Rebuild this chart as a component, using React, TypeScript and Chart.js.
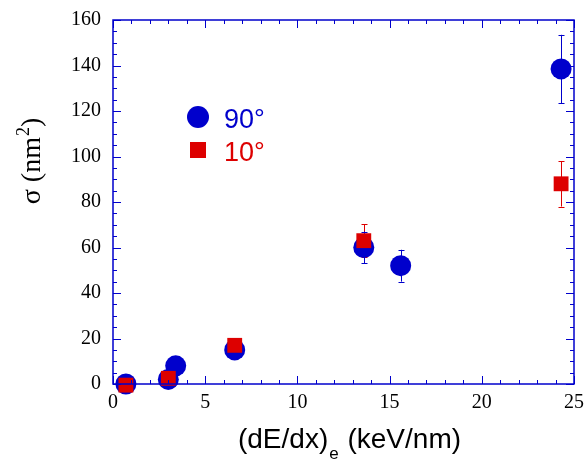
import React, { useEffect, useRef } from "react";
import { Chart, registerables } from "chart.js";

Chart.register(...registerables);

const BLUE = "#0000cc";
const RED = "#dd0000";

const blueX = [0.7, 3.0, 3.4, 6.6, 13.6, 15.6, 24.3];
const blueY = [0, 2, 8, 15, 60, 52, 138.5];
const blueErr = [0.5, 0.5, 1, 1.5, 7, 7, 15];

const redX = [0.7, 3.0, 6.6, 13.6, 24.3];
const redY = [-0.5, 2.5, 17, 63, 88];
const redErr = [0.5, 0.5, 1, 7.3, 10];

const legendLabels = ["90°", "10°"];
const xTitleMain = "(dE/dx)";
const xTitleSub = "e";
const xTitleRest = " (keV/nm)";
const yTitleMain = "σ (nm";
const yTitleSup = "2";
const yTitleEnd = ")";

const X_MIN = 0, X_MAX = 25, X_STEP = 5, X_MINOR = 1;
const Y_MIN = 0, Y_MAX = 160, Y_STEP = 20, Y_MINOR = 5;

const errorData = [redErr, blueErr];
const errColors = [RED, BLUE];

const zeroPad = (s: any) => {
  s.paddingLeft = 0;
  s.paddingRight = 0;
  s.paddingTop = 0;
  s.paddingBottom = 0;
};

const decorPlugin = {
  id: "decor",
  beforeDatasetsDraw(chart: any) {
    const ctx = chart.ctx;
    const xs = chart.scales.x;
    const ys = chart.scales.y;
    ctx.save();
    chart.data.datasets.forEach((ds: any, di: number) => {
      ctx.strokeStyle = errColors[di];
      ctx.lineWidth = 1;
      ds.data.forEach((p: any, i: number) => {
        const e = errorData[di][i];
        const px = Math.round(xs.getPixelForValue(p.x)) + 0.5;
        const y1 = ys.getPixelForValue(p.y + e);
        const y2 = ys.getPixelForValue(p.y - e);
        ctx.beginPath();
        ctx.moveTo(px, y1);
        ctx.lineTo(px, y2);
        ctx.moveTo(px - 3, Math.round(y1) + 0.5);
        ctx.lineTo(px + 3, Math.round(y1) + 0.5);
        ctx.moveTo(px - 3, Math.round(y2) + 0.5);
        ctx.lineTo(px + 3, Math.round(y2) + 0.5);
        ctx.stroke();
      });
    });
    ctx.restore();
  },
  afterDraw(chart: any) {
    const ctx = chart.ctx;
    const { left, right, top, bottom } = chart.chartArea;
    const xs = chart.scales.x;
    const ys = chart.scales.y;
    ctx.save();
    // frame
    ctx.strokeStyle = BLUE;
    ctx.lineWidth = 1.5;
    ctx.strokeRect(left, top, right - left, bottom - top);
    // ticks
    ctx.lineWidth = 1;
    ctx.beginPath();
    for (let v = X_MIN; v <= X_MAX + 1e-9; v += X_MINOR) {
      const len = Math.abs(v % X_STEP) < 1e-9 ? 8 : 4;
      const px = Math.round(xs.getPixelForValue(v)) + 0.5;
      ctx.moveTo(px, bottom);
      ctx.lineTo(px, bottom - len);
      ctx.moveTo(px, top);
      ctx.lineTo(px, top + len);
    }
    for (let v = Y_MIN; v <= Y_MAX + 1e-9; v += Y_MINOR) {
      const len = Math.abs(v % Y_STEP) < 1e-9 ? 8 : 4;
      const py = Math.round(ys.getPixelForValue(v)) + 0.5;
      ctx.moveTo(left, py);
      ctx.lineTo(left + len, py);
      ctx.moveTo(right, py);
      ctx.lineTo(right - len, py);
    }
    ctx.stroke();

    // legend
    const lx = left + 85;
    const ly1 = top + 97;
    const ly2 = top + 130;
    ctx.fillStyle = BLUE;
    ctx.beginPath();
    ctx.arc(lx, ly1, 11, 0, Math.PI * 2);
    ctx.fill();
    ctx.fillStyle = RED;
    ctx.fillRect(lx - 8, ly2 - 8, 16, 16);
    ctx.font = "27px 'Liberation Sans', Arial, sans-serif";
    ctx.textBaseline = "alphabetic";
    ctx.textAlign = "left";
    ctx.fillStyle = BLUE;
    ctx.fillText(legendLabels[0], lx + 26, ly1 + 11);
    ctx.fillStyle = RED;
    ctx.fillText(legendLabels[1], lx + 26, ly2 + 11);

    // x title
    ctx.fillStyle = "#000";
    const mainFont = "28px 'Liberation Sans', Arial, sans-serif";
    const subFont = "17px 'Liberation Sans', Arial, sans-serif";
    ctx.font = mainFont;
    const w1 = ctx.measureText(xTitleMain).width;
    const w3 = ctx.measureText(xTitleRest).width;
    ctx.font = subFont;
    const w2 = ctx.measureText(xTitleSub).width;
    const total = w1 + w2 + 2 + w3;
    const cx = (left + right) / 2 + 6;
    const x0 = cx - total / 2;
    const base = bottom + 64;
    ctx.font = mainFont;
    ctx.fillText(xTitleMain, x0, base);
    ctx.font = subFont;
    ctx.fillText(xTitleSub, x0 + w1 + 1, base + 11);
    ctx.font = mainFont;
    ctx.fillText(xTitleRest, x0 + w1 + w2 + 2, base);

    // y title (rotated)
    const yFont = "28px 'Liberation Serif', 'Times New Roman', serif";
    const ySupFont = "18px 'Liberation Serif', 'Times New Roman', serif";
    ctx.font = yFont;
    const a1 = ctx.measureText(yTitleMain).width;
    const a3 = ctx.measureText(yTitleEnd).width;
    ctx.font = ySupFont;
    const a2 = ctx.measureText(yTitleSup).width;
    const ytot = a1 + a2 + a3 + 1;
    ctx.translate(40, 161);
    ctx.rotate(-Math.PI / 2);
    const t = -ytot / 2;
    ctx.font = yFont;
    ctx.fillText(yTitleMain, t, 0);
    ctx.font = ySupFont;
    ctx.fillText(yTitleSup, t + a1 + 1, -11);
    ctx.font = yFont;
    ctx.fillText(yTitleEnd, t + a1 + a2 + 1, 0);
    ctx.restore();
  },
};

export default function App() {
  const ref = useRef<HTMLCanvasElement | null>(null);
  useEffect(() => {
    if (!ref.current) return;
    const chart = new Chart(ref.current, {
      type: "scatter",
      data: {
        datasets: [
          {
            label: legendLabels[1],
            data: redX.map((x, i) => ({ x, y: redY[i] })),
            backgroundColor: RED,
            borderColor: RED,
            borderWidth: 0,
            pointStyle: "rect",
            pointRadius: 10.5,
            clip: false,
          } as any,
          {
            label: legendLabels[0],
            data: blueX.map((x, i) => ({ x, y: blueY[i] })),
            backgroundColor: BLUE,
            borderColor: BLUE,
            borderWidth: 0,
            pointStyle: "circle",
            pointRadius: 10.5,
            clip: false,
          } as any,
        ],
      },
      options: {
        animation: false,
        responsive: true,
        maintainAspectRatio: false,
        layout: { padding: { top: 20, right: 12, left: 0, bottom: 0 } },
        plugins: { legend: { display: false }, tooltip: { enabled: false } },
        events: [],
        scales: {
          x: {
            type: "linear",
            min: X_MIN,
            max: X_MAX,
            afterFit: (s: any) => { s.height = 77; zeroPad(s); },
            grid: { display: false, drawTicks: false },
            border: { display: false },
            ticks: {
              stepSize: X_STEP,
              padding: 7,
              color: "#000",
              font: { family: "'Liberation Serif', 'Times New Roman', serif", size: 20 },
              maxRotation: 0,
            },
          },
          y: {
            type: "linear",
            min: Y_MIN,
            max: Y_MAX,
            afterFit: (s: any) => { s.width = 113; zeroPad(s); },
            grid: { display: false, drawTicks: false },
            border: { display: false },
            ticks: {
              stepSize: Y_STEP,
              padding: 12,
              color: "#000",
              font: { family: "'Liberation Serif', 'Times New Roman', serif", size: 20 },
            },
          },
        },
      },
      plugins: [decorPlugin],
    });
    return () => chart.destroy();
  }, []);
  return (
    <div style={{ position: "fixed", left: 0, top: 0, width: 586, height: 461, background: "#fff" }}>
      <canvas ref={ref} />
    </div>
  );
}
